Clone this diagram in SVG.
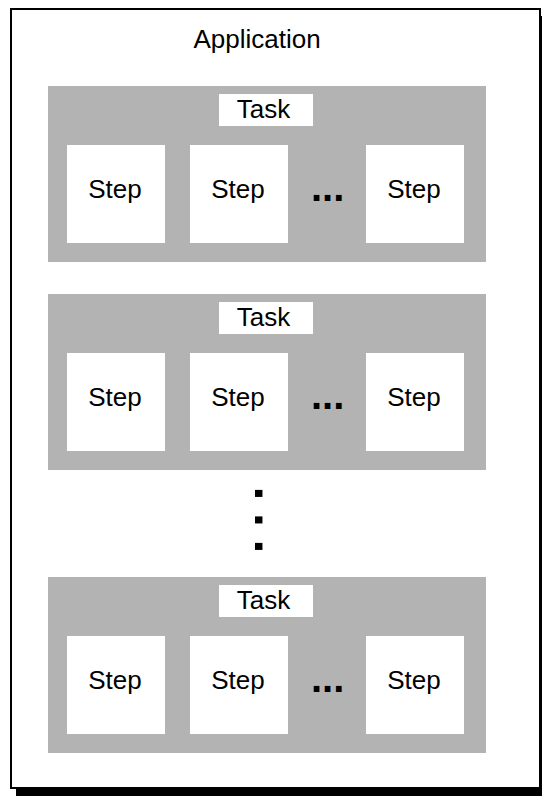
<svg xmlns="http://www.w3.org/2000/svg" width="542" height="796" viewBox="0 0 542 796">
<style>
text{font-family:"Liberation Sans",Arial,Helvetica,sans-serif;fill:#000}
.lbl{font-size:26px;text-anchor:middle}
.task{fill:#b3b3b3}
.white{fill:#fff}
.dots{font-size:40px;font-weight:bold}
.vdots{font-size:50px;font-weight:bold;letter-spacing:12.6px}
</style>
<defs>
<g id="taskTpl">
<rect class="task" x="48" y="86" width="438" height="176"/>
<rect class="white" x="219" y="94" width="94" height="32"/>
<text class="lbl" x="263.5" y="118.3">Task</text>
<rect class="white" x="67" y="145" width="98" height="98"/>
<text class="lbl" x="115" y="198.3">Step</text>
<rect class="white" x="190" y="145" width="98" height="98"/>
<text class="lbl" x="238" y="198.3">Step</text>
<text class="dots" x="311" y="201">...</text>
<rect class="white" x="366" y="145" width="98" height="98"/>
<text class="lbl" x="414" y="198.3">Step</text>
</g>
</defs>
<g id="application">
<rect x="16" y="16" width="530" height="780" fill="#000"/>
<rect x="11" y="9" width="529" height="779" fill="#fff" stroke="#000" stroke-width="2"/>
<text class="lbl" x="257" y="48.3">Application</text>
</g>
<g id="task1"><use href="#taskTpl"/></g>
<g id="task2"><use href="#taskTpl" transform="translate(0,208)"/></g>
<g id="vertical-ellipsis">
<text class="vdots" transform="translate(255,486.5) rotate(90)">...</text>
</g>
<g id="task3"><use href="#taskTpl" transform="translate(0,491)"/></g>
</svg>
